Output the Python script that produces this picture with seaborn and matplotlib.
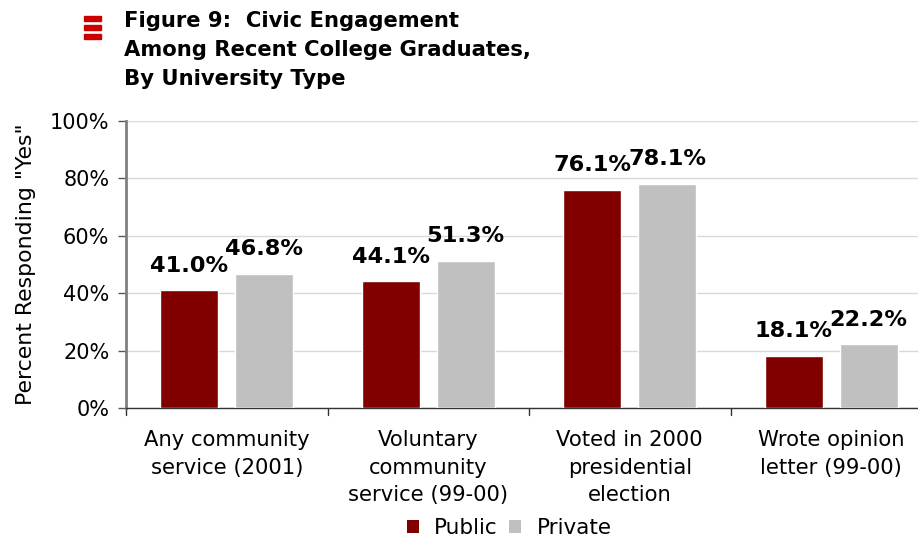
import matplotlib
matplotlib.use("Agg")
import matplotlib.pyplot as plt
import seaborn as sns
import pandas as pd
from matplotlib.patches import Rectangle, Patch

categories = ["Any community\nservice (2001)", "Voluntary\ncommunity\nservice (99-00)",
              "Voted in 2000\npresidential\nelection", "Wrote opinion\nletter (99-00)"]
public = [41.0, 44.1, 76.1, 18.1]
private = [46.8, 51.3, 78.1, 22.2]
series = ["Public", "Private"]
colors = ["#800000", "#C0C0C0"]
yticks = [0, 20, 40, 60, 80, 100]

sns.set_theme(style="white")
plt.rcParams['font.family'] = ['DejaVu Sans']
plt.rcParams['text.color'] = 'black'
plt.rcParams['axes.labelcolor'] = 'black'
plt.rcParams['xtick.color'] = 'black'
plt.rcParams['ytick.color'] = 'black'

df = pd.DataFrame({
    "category": categories * 2,
    "value": public + private,
    "type": [series[0]] * 4 + [series[1]] * 4,
})

fig = plt.figure(figsize=(9.18, 5.38), dpi=100)
ax = fig.add_axes([126/918, 1 - 408/538, 806/918, 287/538])

sns.barplot(data=df, x="category", y="value", hue="type", hue_order=series,
            palette=colors, width=0.744, gap=0.226, saturation=1, ax=ax,
            legend=False, errorbar=None, zorder=3)

for cont in ax.containers:
    ax.bar_label(cont, labels=[f"{v:.1f}%" for v in cont.datavalues],
                 fontsize=16.2, fontweight="bold", padding=10.5, color="black")

ax.set_ylim(0, 100)
ax.set_yticks(yticks)
ax.set_yticklabels([f"{t}%" for t in yticks], fontsize=15)
ax.set_xlim(-0.5, 3.5)
ax.set_xticks([0, 1, 2, 3])
ax.set_xticklabels(categories, fontsize=15.2, linespacing=1.46)
ax.tick_params(axis="x", length=0, pad=16)
ax.tick_params(axis="y", length=6, width=1, color="#555555", left=True, pad=6)
for b in [-0.5, 0.5, 1.5, 2.5]:
    ax.plot([b, b], [0, -0.025], transform=ax.get_xaxis_transform(), color="#333333",
            lw=1, clip_on=False)
ax.yaxis.grid(True, color="#d9d9d9", lw=1, zorder=0)
ax.set_axisbelow(True)
for s in ["top", "right"]:
    ax.spines[s].set_visible(False)
ax.spines["left"].set_color("#808080")
ax.spines["left"].set_linewidth(2)
ax.spines["bottom"].set_color("#333333")
ax.spines["bottom"].set_linewidth(1)
ax.set_xlabel("")
ax.set_ylabel('Percent Responding "Yes"', fontsize=15.8, labelpad=10)

# title
fig.text(124/918, 1 - 11/538, "Figure 9:  Civic Engagement\nAmong Recent College Graduates,\nBy University Type",
         fontsize=15.2, fontweight="bold", va="top", ha="left", linespacing=1.55)
# red icon
for yy in [16, 25, 34]:
    fig.patches.append(Rectangle((84/918, 1 - (yy + 5)/538), 17/918, 5/538,
                                 transform=fig.transFigure, color="#CC0000"))

# legend
handles = [Patch(facecolor=c, edgecolor="none") for c in colors]
fig.legend(handles, series, loc="center", bbox_to_anchor=(509/918, 1 - 528/538),
           ncol=2, frameon=False, fontsize=15.5, handlelength=0.56, handleheight=0.56,
           handletextpad=0.7, columnspacing=0.56, borderpad=0)

fig.savefig("out.png", dpi=100)
